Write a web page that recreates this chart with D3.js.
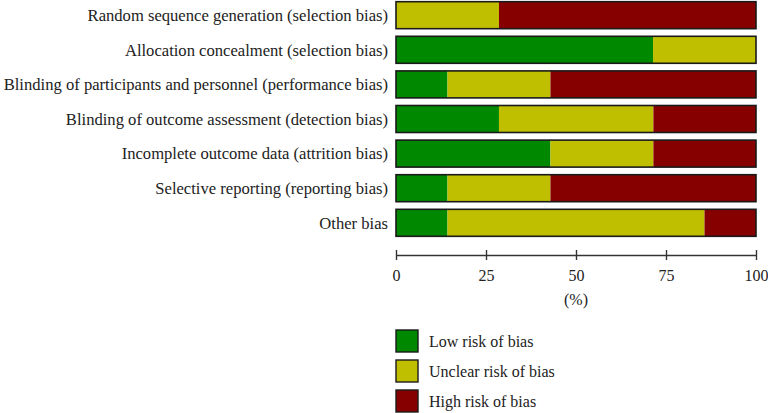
<!DOCTYPE html>
<html>
<head>
<meta charset="utf-8">
<script src="https://cdn.jsdelivr.net/npm/d3@7"></script>
<style>
  body { margin: 0; background: #fff; }
  svg text { font-family: "Liberation Serif", "DejaVu Serif", serif; fill: #222; }
</style>
</head>
<body>
<svg width="768" height="413"></svg>
<script>
var domains = [
  "Random sequence generation (selection bias)",
  "Allocation concealment (selection bias)",
  "Blinding of participants and personnel (performance bias)",
  "Blinding of outcome assessment (detection bias)",
  "Incomplete outcome data (attrition bias)",
  "Selective reporting (reporting bias)",
  "Other bias"
];
var lowRisk = [0, 71.4, 14.3, 28.6, 42.9, 14.3, 14.3];
var unclearRisk = [28.6, 28.6, 28.6, 42.9, 28.6, 28.6, 71.4];
var highRisk = [71.4, 0, 57.1, 28.5, 28.5, 57.1, 14.3];
var levels = ["Low risk of bias", "Unclear risk of bias", "High risk of bias"];
var colors = ["#008800", "#bfbf00", "#860000"];
var xTicks = [0, 25, 50, 75, 100];

var svg = d3.select("svg");

var rows = domains.map(function (d, i) {
  return { name: d, low: lowRisk[i], unclear: unclearRisk[i], high: highRisk[i] };
});

var scX = d3.scaleLinear().domain([0, 100]).range([396, 756]);
var scY = d3.scaleBand().domain(domains).range([1, 237]).paddingInner(0.22).paddingOuter(0.02);

var stack = d3.stack().keys(["low", "unclear", "high"]);
var layers = stack(rows);

svg.append("g").selectAll("g")
  .data(layers).enter().append("g")
  .attr("fill", (d, i) => colors[i])
  .selectAll("rect")
  .data(d => d).enter().append("rect")
  .attr("x", d => scX(d[0]))
  .attr("y", d => scY(d.data.name))
  .attr("width", d => scX(d[1]) - scX(d[0]))
  .attr("height", scY.bandwidth());

// outline of each bar
svg.append("g").selectAll("rect")
  .data(rows).enter().append("rect")
  .attr("x", scX(0)).attr("y", d => scY(d.name))
  .attr("width", scX(100) - scX(0)).attr("height", scY.bandwidth())
  .attr("fill", "none").attr("stroke", "#1a1a1a").attr("stroke-width", 1.6);

// row labels
svg.append("g").selectAll("text")
  .data(domains).enter().append("text")
  .attr("x", 388).attr("y", d => scY(d) + scY.bandwidth() / 2)
  .attr("dy", "0.35em").attr("text-anchor", "end")
  .attr("font-size", 16.6)
  .text(d => d);

// x axis
var ax = svg.append("g").attr("transform", "translate(0,255)")
  .call(d3.axisBottom(scX).tickValues(xTicks).tickSize(5).tickSizeOuter(0).tickPadding(10));
ax.select(".domain").attr("stroke", "#333").attr("stroke-width", 1.4);
ax.selectAll(".tick line").attr("stroke", "#333").attr("stroke-width", 1.4).attr("y1", -5);
ax.selectAll(".tick text").attr("font-size", 16).attr("font-family", "Liberation Serif, serif").attr("fill", "#222");

svg.append("text").attr("x", scX(50)).attr("y", 305)
  .attr("text-anchor", "middle").attr("font-size", 16).text("(%)");

// legend
var lg = svg.append("g").selectAll("g")
  .data(levels).enter().append("g")
  .attr("transform", (d, i) => "translate(396," + (330 + i * 30) + ")");
lg.append("rect").attr("width", 22).attr("height", 22)
  .attr("fill", (d, i) => colors[i]).attr("stroke", "#1a1a1a").attr("stroke-width", 1.4);
lg.append("text").attr("x", 33).attr("y", 11).attr("dy", "0.35em")
  .attr("font-size", 16).text(d => d);
</script>
</body>
</html>
